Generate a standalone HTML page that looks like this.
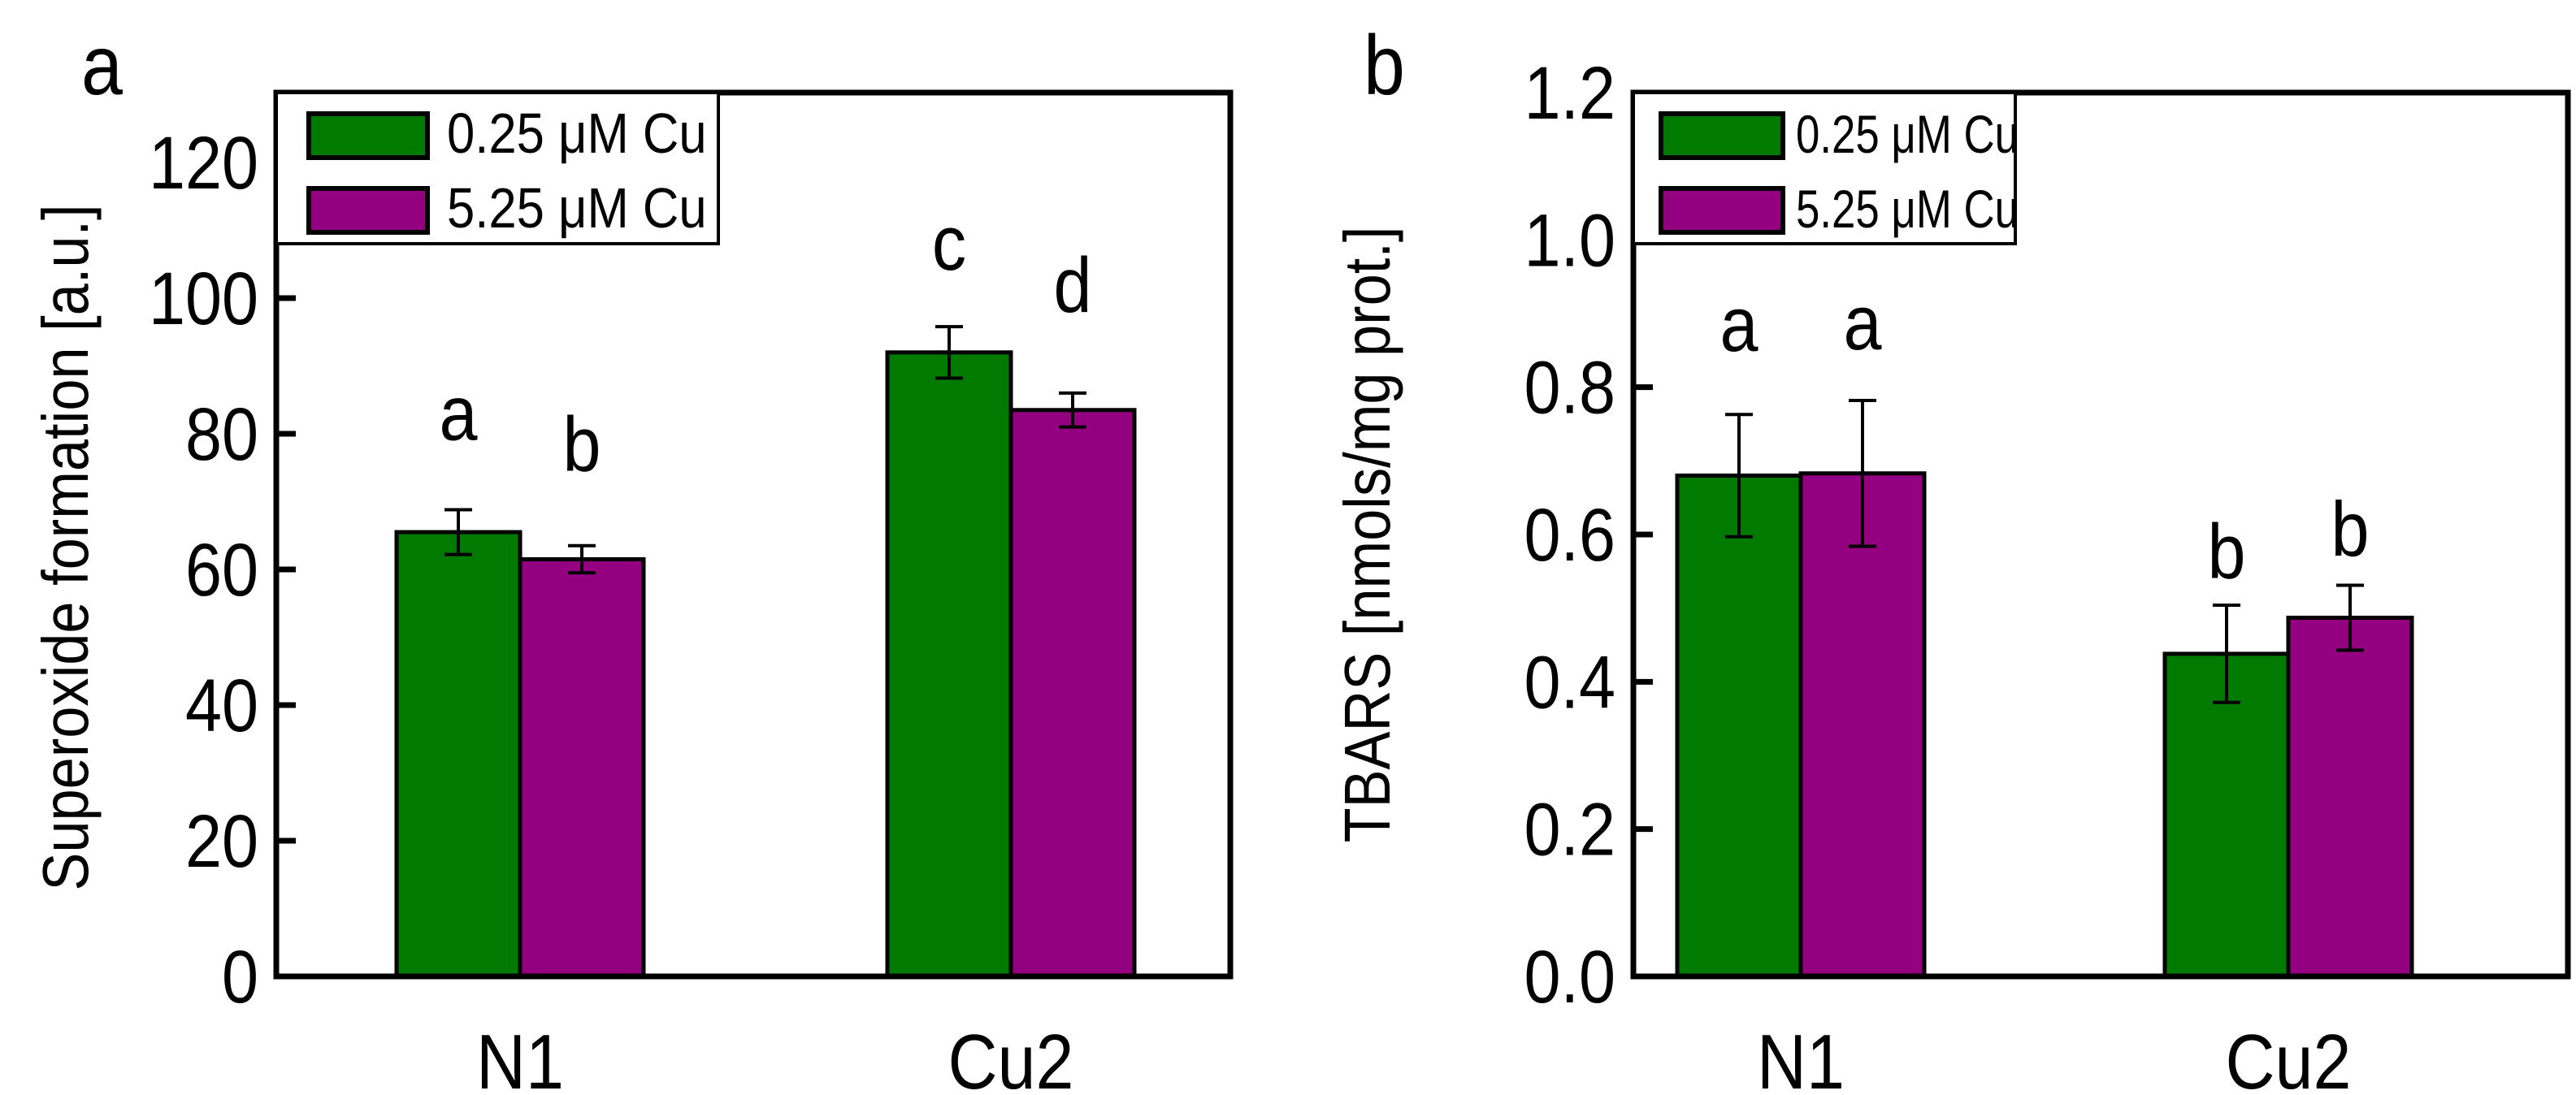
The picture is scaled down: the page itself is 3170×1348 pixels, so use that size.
<!DOCTYPE html>
<html><head><meta charset="utf-8"><style>
html,body{margin:0;padding:0;background:#fff;}
svg{display:block;font-family:"Liberation Sans",Arial,sans-serif;}
</style></head><body>
<svg id="chart" width="3170" height="1348" viewBox="0 0 3170 1348" xmlns="http://www.w3.org/2000/svg"></svg>
<script>
const categories = ["N1","Cu2"];
const seriesNames = ["0.25 \u03bcM Cu","5.25 \u03bcM Cu"];
const seriesColors = ["#007a00","#930080"];
const aGreen = [65.5, 92];
const aGreenErr = [3.3, 3.8];
const aPurple = [61.5, 83.5];
const aPurpleErr = [2.0, 2.5];
const aLetters = [["a","c"],["b","d"]];
const aTicks = [0,20,40,60,80,100,120];
const bGreen = [0.68, 0.438];
const bGreenErr = [0.083, 0.066];
const bPurple = [0.683, 0.487];
const bPurpleErr = [0.099, 0.044];
const bLetters = [["a","b"],["a","b"]];
const bTicks = ["0.0","0.2","0.4","0.6","0.8","1.0","1.2"];

const NS="http://www.w3.org/2000/svg";
const svg=document.getElementById('chart');
function mk(tag,attrs,parent){const e=document.createElementNS(NS,tag);for(const k in attrs)e.setAttribute(k,attrs[k]);(parent||svg).appendChild(e);return e;}
function txt(x,y,s,size,anchor,parent,rot,sx){
  const t=mk('text',{x:0,y:0,'font-size':size,'text-anchor':anchor,fill:'#000',transform:`translate(${x},${y})`+(rot?` rotate(${rot})`:'')+` scale(${sx||0.88},1)`},parent);
  t.textContent=s;return t;}

function panel(opt){
  const g=mk('g',{});
  
  
  const {L,R,T,B,ymax}=opt;
  const y=v=>B-v/ymax*(B-T);
  const groupCenters=opt.centers;
  const bw=152;
  const xs=(ci,si)=>groupCenters[ci]+(si===0?-bw:0);
  const sets=[[opt.g,opt.ge],[opt.p,opt.pe]];
  for(let si=0;si<2;si++){
    for(let ci=0;ci<categories.length;ci++){
      const v=sets[si][0][ci], e=sets[si][1][ci];
      const r=mk('rect',{x:xs(ci,si),y:y(v),width:bw,height:B-y(v),fill:seriesColors[si],stroke:'#000','stroke-width':5},g);
      
      
      const cx=xs(ci,si)+bw/2;
      const eg=mk('g',{stroke:'#000','stroke-width':4},g);
      
      
      mk('line',{x1:cx,x2:cx,y1:y(v-e),y2:y(v+e)},eg);
      mk('line',{x1:cx-17,x2:cx+17,y1:y(v-e),y2:y(v-e)},eg);
      mk('line',{x1:cx-17,x2:cx+17,y1:y(v+e),y2:y(v+e)},eg);
      const lt=txt(cx,y(v+e)-opt.letterGap[si][ci],opt.letters[si][ci],96,'middle',g);
      
      
    }
  }
  const frame=mk('rect',{x:L,y:T,width:R-L,height:B-T,fill:'none',stroke:'#000','stroke-width':7},g);
  
  
  opt.ticks.forEach(tv=>{
    const v=parseFloat(tv);const yy=y(v);
    mk('line',{x1:L,x2:L+24,y1:yy,y2:yy,stroke:'#000','stroke-width':7},g);
    const t=txt(L-22,yy+32,String(tv),92,'end',g);
    
    
  });
  categories.forEach((c,i)=>{
    const t=txt(groupCenters[i],B+138,c,96,'middle',g);
    
    
  });
  const yt=txt(opt.ytx,(T+B)/2+opt.yto,opt.ytitle,80,'middle',g,-90);
  
  
  const pl=txt(opt.plx,116,opt.label,104,'start',g);
  
  
  const lg=mk('g',{},g);
  
  
  mk('rect',{x:L,y:T,width:opt.legW,height:186,fill:'#fff',stroke:'#000','stroke-width':4},lg);
  for(let si=0;si<2;si++){
    const sy=T+26+si*92;
    const sw=mk('rect',{x:L+opt.swx,y:sy,width:opt.sww,height:54,fill:seriesColors[si],stroke:'#000','stroke-width':6},lg);
    
    
    const t=txt(L+opt.tx,sy+48,seriesNames[si],opt.lfs,'start',lg,0,opt.lsx);
    
    
  }
}
panel({name:'panel-a-superoxide',L:340,R:1514,T:114,B:1202,ymax:130.3,centers:[640,1244],
  g:aGreen,ge:aGreenErr,p:aPurple,pe:aPurpleErr,letters:aLetters,letterGap:[[86,70],[92,100]],
  ticks:aTicks,ytitle:'Superoxide formation [a.u.]',ytx:108,yto:16,label:'a',plx:100,legW:544,swx:40,sww:146,tx:210,lfs:70,lsx:0.88});
panel({name:'panel-b-tbars',L:2010,R:3160,T:114,B:1202,ymax:1.2,centers:[2216,2816],
  g:bGreen,ge:bGreenErr,p:bPurple,pe:bPurpleErr,letters:bLetters,letterGap:[[78,33],[63,36]],
  ticks:bTicks,ytitle:'TBARS [nmols/mg prot.]',ytx:1710,yto:0,label:'b',plx:1678,legW:470,swx:34,sww:150,tx:200,lfs:66,lsx:0.8});
</script>
</body></html>
